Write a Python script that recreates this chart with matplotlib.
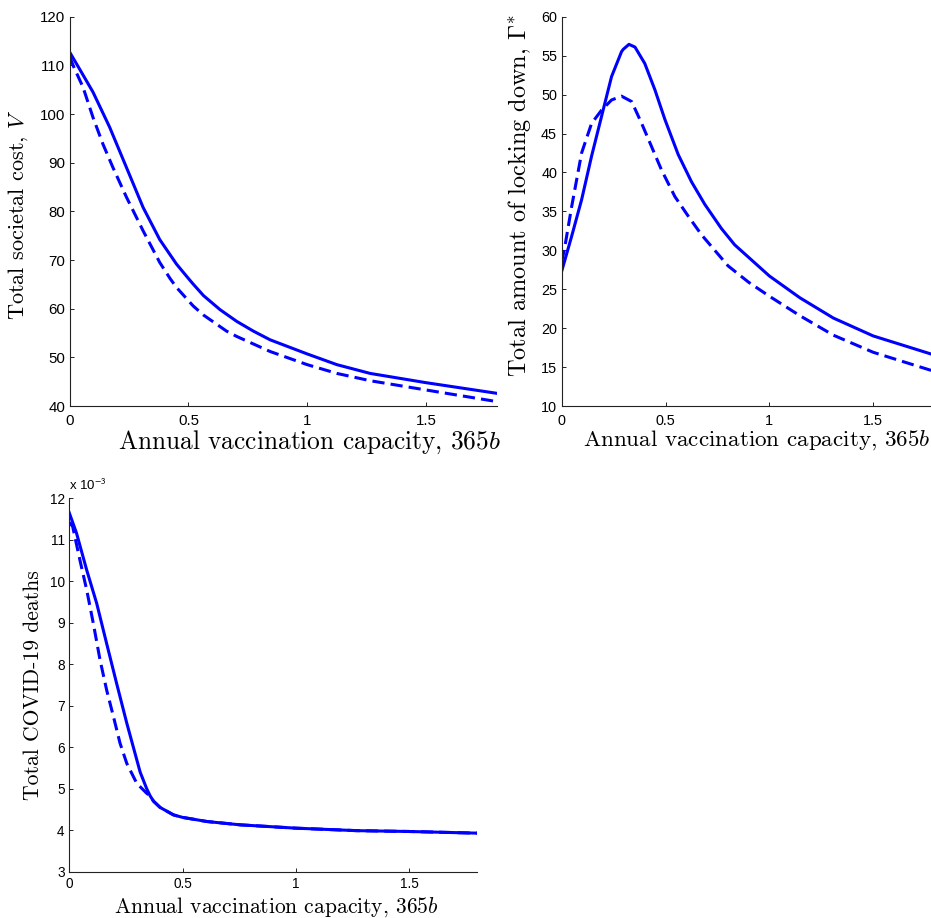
import matplotlib
matplotlib.use("Agg")
import matplotlib.pyplot as plt
from matplotlib.ticker import FuncFormatter
from matplotlib.transforms import Bbox

plt.rcParams['mathtext.fontset'] = 'cm'
plt.rcParams['font.family'] = ['Liberation Sans', 'DejaVu Sans']

BLUE = (0, 0, 1)

# panel 1: total societal cost V
cost_x_solid = [0.0, 0.042, 0.098, 0.168, 0.239, 0.309, 0.379, 0.449, 0.493, 0.519,
                0.563, 0.633, 0.703, 0.773, 0.844, 1.0, 1.125, 1.265, 1.5, 1.8]
cost_solid = [112.7, 109.2, 104.5, 97.3, 89.0, 80.8, 74.2, 69.2, 66.6, 65.1,
              62.7, 59.8, 57.4, 55.4, 53.6, 50.7, 48.5, 46.7, 44.8, 42.6]
cost_x_dash = [0.0, 0.014, 0.056, 0.098, 0.14, 0.182, 0.239, 0.309, 0.379, 0.4225,
               0.449, 0.519, 0.563, 0.66, 0.703, 0.844, 1.0, 1.125, 1.265, 1.5, 1.8]
cost_dash = [111.8, 110.0, 105.5, 99.3, 93.8, 89.0, 82.9, 76.0, 69.5, 66.2,
             64.4, 60.6, 58.7, 55.4, 54.3, 51.2, 48.5, 46.7, 45.2, 43.3, 40.9]

# panel 2: total amount of locking down
lock_x_solid = [0.0, 0.048, 0.096, 0.144, 0.192, 0.24, 0.288, 0.296, 0.324, 0.353,
                0.4, 0.449, 0.497, 0.561, 0.625, 0.689, 0.769, 0.833, 1.0, 1.147,
                1.308, 1.5, 1.8]
lock_solid = [27.3, 31.8, 36.5, 42.1, 47.2, 52.3, 55.5, 55.8, 56.45, 56.1,
              54.0, 50.6, 46.8, 42.3, 38.8, 35.9, 32.8, 30.7, 26.7, 23.9,
              21.3, 19.0, 16.5]
lock_x_dash = [0.0, 0.013, 0.048, 0.096, 0.144, 0.192, 0.24, 0.288, 0.337, 0.385,
               0.433, 0.481, 0.545, 0.609, 0.673, 0.737, 0.801, 0.9, 1.0, 1.147,
               1.308, 1.5, 1.8]
lock_dash = [28.5, 30.1, 35.6, 42.5, 46.3, 48.0, 49.3, 49.8, 49.1, 46.3,
             43.3, 40.3, 36.9, 34.4, 32.0, 30.0, 28.0, 25.9, 24.1, 21.6,
             19.1, 16.9, 14.4]

# panel 3: total covid-19 deaths
death_x_solid = [0.0, 0.032, 0.077, 0.121, 0.165, 0.209, 0.254, 0.298, 0.313, 0.342,
                 0.357, 0.372, 0.401, 0.46, 0.5, 0.608, 0.755, 1.0, 1.27, 1.5, 1.8]
death_solid = [11.65e-3, 11.16e-3, 10.27e-3, 9.47e-3, 8.5e-3, 7.54e-3, 6.58e-3, 5.7e-3,
               5.4e-3, 5.0e-3, 4.83e-3, 4.70e-3, 4.55e-3, 4.37e-3, 4.31e-3, 4.21e-3,
               4.13e-3, 4.05e-3, 3.99e-3, 3.97e-3, 3.93e-3]
death_x_dash = [0.0, 0.015, 0.047, 0.077, 0.106, 0.136, 0.165, 0.195, 0.224, 0.254,
                0.298, 0.342, 0.357, 0.372, 0.401, 0.46, 0.5, 0.608, 0.755, 1.0,
                1.27, 1.5, 1.8]
death_dash = [11.42e-3, 11.32e-3, 10.51e-3, 9.79e-3, 8.99e-3, 8.1e-3, 7.38e-3, 6.74e-3,
              6.1e-3, 5.61e-3, 5.13e-3, 4.89e-3, 4.83e-3, 4.70e-3, 4.55e-3, 4.37e-3,
              4.31e-3, 4.21e-3, 4.13e-3, 4.05e-3, 3.99e-3, 3.97e-3, 3.93e-3]

xticks = [0, 0.5, 1, 1.5]
xtick_labels = ['0', '0.5', '1', '1.5']
xlabel = r'Annual vaccination capacity, $365b$'

W, H = 931, 918


def style_axis(ax, tick_size, xpad):
    for side in ['top', 'right']:
        ax.spines[side].set_visible(False)
    for side in ['left', 'bottom']:
        ax.spines[side].set_linewidth(0.8)
        ax.spines[side].set_color('#222222')
    ax.tick_params(direction='in', length=3, width=0.7, color='#222222',
                   labelsize=tick_size)
    ax.tick_params(axis='y', pad=3.3)
    ax.tick_params(axis='x', pad=xpad)
    ax.set_xticks(xticks)
    ax.set_xticklabels(xtick_labels)
    ax.set_xlim(0, 1.8)


def draw(ax, xs, ys, xd, yd):
    ax.plot(xd, yd, color=BLUE, lw=2.2, ls=(0, (4.0, 2.0)), solid_joinstyle='round')
    ax.plot(xs, ys, color=BLUE, lw=2.2, solid_joinstyle='round')


def clip_xticklabels(ax, fig, cut_px):
    # the upper panels' tick labels are cut off at their bottom in the reference
    box = Bbox.from_extents(0, H - cut_px, W, H)
    for lbl in ax.get_xticklabels():
        lbl.set_clip_box(box)
        lbl.set_clip_on(True)


fig = plt.figure(figsize=(W / 100, H / 100), dpi=100)

ax1 = fig.add_axes([0.0749, 0.5577, 0.4592, 0.4241])
draw(ax1, cost_x_solid, cost_solid, cost_x_dash, cost_dash)
style_axis(ax1, 10.8, 5.7)
ax1.set_ylim(40, 120)
ax1.set_yticks(range(40, 121, 10))
ax1.set_ylabel(r'Total societal cost, $V$', family='cmr10', fontsize=16)
ax1.yaxis.set_label_coords(-0.093, 0.492)
ax1.set_xlabel(xlabel, family='cmr10', fontsize=18.3)
ax1.xaxis.set_label_coords(0.56, -0.057)
clip_xticklabels(ax1, fig, 424.5)

ax2 = fig.add_axes([0.6033, 0.5577, 0.4016, 0.4241])
draw(ax2, lock_x_solid, lock_solid, lock_x_dash, lock_dash)
style_axis(ax2, 10.4, 5.7)
ax2.set_ylim(10, 60)
ax2.set_yticks(range(10, 61, 5))
ax2.set_ylabel(r'Total amount of locking down, $\Gamma^{*}$', family='cmr10', fontsize=17.5)
ax2.yaxis.set_label_coords(-0.077, 0.54)
ax2.set_xlabel(xlabel, family='cmr10', fontsize=16.6)
ax2.xaxis.set_label_coords(0.521, -0.057)
clip_xticklabels(ax2, fig, 424.5)

ax3 = fig.add_axes([0.0744, 0.0504, 0.4379, 0.4068])
draw(ax3, death_x_solid, death_solid, death_x_dash, death_dash)
style_axis(ax3, 9.8, 3.5)
ax3.set_ylim(3e-3, 12e-3)
ax3.set_yticks([v * 1e-3 for v in range(3, 13)])
ax3.yaxis.set_major_formatter(FuncFormatter(lambda v, p: '%g' % round(v * 1e3, 6)))
ax3.set_ylabel('Total COVID-19 deaths', family='cmr10', fontsize=15.6)
ax3.yaxis.set_label_coords(-0.065, 0.5)
ax3.set_xlabel(xlabel, family='cmr10', fontsize=15.5)
ax3.xaxis.set_label_coords(0.507, -0.062)
ax3.annotate(r'x 10$^{-3}$', xy=(0, 1), xycoords='axes fraction',
             xytext=(0, 4), textcoords='offset points', ha='left', va='bottom',
             fontsize=9.5, math_fontfamily='stixsans')

fig.savefig('out.png', dpi=100)
